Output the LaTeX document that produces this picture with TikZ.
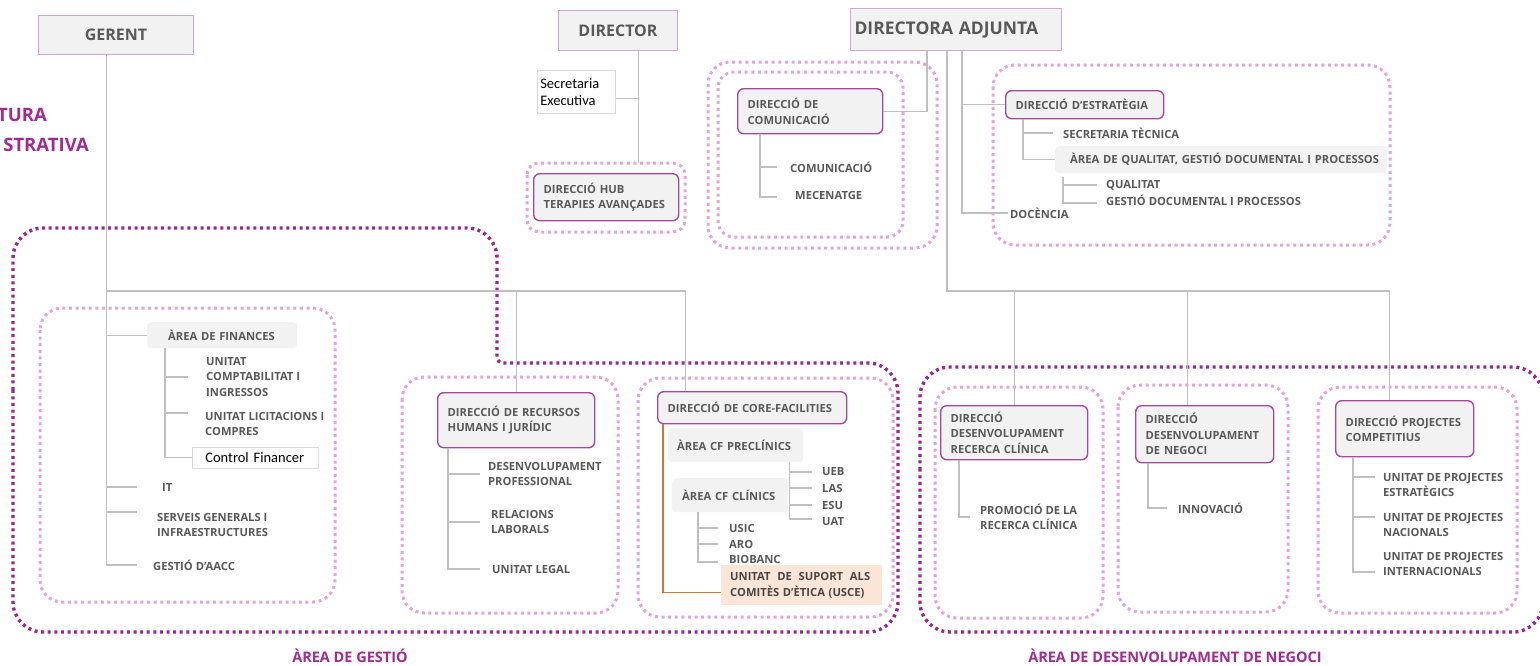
\documentclass[tikz,border=0pt]{standalone}
\usepackage{fontspec}
\setmainfont{Open Sans}
\newfontfamily\calibfont{Carlito}
\usepackage{tikz}
\usetikzlibrary{positioning}

\definecolor{lblgray}{HTML}{595959}
\definecolor{boxfill}{HTML}{F2F2F2}
\definecolor{dirline}{HTML}{A8489D}
\definecolor{areadot}{HTML}{9B2590}
\definecolor{subdot}{HTML}{E3A3DB}
\definecolor{connline}{HTML}{BFBFBF}
\definecolor{titlepurple}{HTML}{A02B93}
\definecolor{uscefill}{HTML}{FBE5D6}
\definecolor{orangeline}{HTML}{D0783C}
\definecolor{topline}{HTML}{D6A4CF}

\newcommand{\lblfont}{\fontsize{11.2}{15.5}\selectfont\bfseries}
\newcommand{\topfont}{\fontsize{16}{18}\selectfont\bfseries}
\newcommand{\areafont}{\fontsize{14.5}{17}\selectfont\bfseries}
\newcommand{\headfont}{\fontsize{18.5}{22}\selectfont\bfseries}

\tikzset{
  topbox/.style={draw=topline, line width=1pt, fill=boxfill, font=\topfont, text=lblgray, anchor=north west, inner sep=0pt},
  secbox/.style={draw=black!15, line width=0.6pt, fill=white, anchor=north west, align=left, inner xsep=3pt, font=\calibfont\fontsize{14.5}{17}\selectfont, text=black},
  ctrlbox/.style={draw=black!15, line width=0.6pt, fill=white, anchor=north west, align=left, inner xsep=13pt, inner ysep=0pt, font=\calibfont\fontsize{14.5}{16}\selectfont, text=black},
  dirbox/.style={draw=dirline, line width=1.4pt, rounded corners=6pt, fill=boxfill, anchor=north west, align=left, inner xsep=10pt, inner ysep=0pt, font=\lblfont, text=lblgray},
  areabox/.style={fill=boxfill, rounded corners=4pt, anchor=north west, align=left, inner ysep=0pt, font=\lblfont, text=lblgray},
  uscebox/.style={fill=uscefill, anchor=north west, align=left, inner xsep=9pt, inner ysep=0pt, font=\lblfont, text=lblgray!80!black},
  leaf/.style={anchor=west, align=left, inner sep=0pt, font=\lblfont, text=lblgray},
  areaname/.style={font=\areafont, text=titlepurple, inner sep=0pt},
  headname/.style={font=\headfont, text=titlepurple, inner sep=0pt, anchor=east},
  conn/.style={draw=connline, line width=1.2pt},
  orangeconn/.style={draw=orangeline, line width=1.2pt},
  bigarea/.style={draw=areadot, line width=3.4pt, dash pattern=on 3pt off 3.6pt, rounded corners=30pt},
  subarea/.style={draw=subdot, line width=3pt, dash pattern=on 3pt off 3.6pt, rounded corners=22pt}
}

\begin{document}
\begin{tikzpicture}[x=1pt,y=-1pt]
  \useasboundingbox (0,0) rectangle (1540,665);
  \clip (0,0) rectangle (1540,665);
  \fill[white] (0,0) rectangle (1540,665);

  \draw[bigarea] (13,420) -- (13,228) -- (497,228) [rounded corners=6pt] -- (497,363) [rounded corners=30pt] -- (898,363) -- (898,632) -- (13,632) -- cycle;
  \draw[bigarea] (920,500) -- (920,367) -- (1543,367) -- (1543,632) -- (920,632) -- cycle;

  \draw[subarea] (40,308)   rectangle (335,602);
  \draw[subarea] (402,377)  rectangle (618,613);
  \draw[subarea] (638,378)  rectangle (893,617);
  \draw[subarea] (935,387)  rectangle (1103,618);
  \draw[subarea] (1118,385) rectangle (1288,612);
  \draw[subarea] (1318,387) rectangle (1517,613);
  \draw[subarea] (993,65)   rectangle (1390,245);
  \draw[subarea] (708,62)   rectangle (937,248);
  \draw[subarea, rounded corners=16pt] (718,72) rectangle (903,237);
  \draw[subarea, rounded corners=12pt] (527,163) rectangle (685,232);

  \node[headname] (tura)     at (47,115) {TURA};
  \node[headname] (strativa) at (89,145) {STRATIVA};

  \node[topbox, minimum width=155pt, minimum height=39pt] (gerent)   at (38,15)  {GERENT};
  \node[topbox, minimum width=119pt, minimum height=40pt] (director) at (558,10) {DIRECTOR};
  \node[topbox, minimum height=42pt, text width=203pt, inner xsep=4pt, align=left, font=\fontsize{17.5}{20}\selectfont\bfseries] (diradj) at (850,8) {DIRECTORA ADJUNTA};
  \node[secbox, minimum height=43pt, text width=72pt] (secexec) at (537,70) {Secretaria\\Executiva};

  \node[dirbox, text width=125pt, minimum height=47pt] (hub)  at (533,173)  {DIRECCIÓ HUB\\TERAPIES AVANÇADES};
  \node[dirbox, text width=125pt, minimum height=45pt] (comm) at (737,88)   {DIRECCIÓ DE\\COMUNICACIÓ};
  \node[dirbox, text width=138pt, minimum height=28pt] (estr) at (1005,90)  {DIRECCIÓ D’ESTRATÈGIA};
  \node[dirbox, text width=137pt, minimum height=55pt] (rrhh) at (437,392)  {DIRECCIÓ DE RECURSOS\\HUMANS I JURÍDIC};
  \node[dirbox, text width=169pt, minimum height=32pt] (cf)   at (657,391)  {\mbox{DIRECCIÓ DE CORE-FACILITIES}};
  \node[dirbox, text width=127pt, minimum height=54pt] (ddrc) at (940,405)  {DIRECCIÓ\\DESENVOLUPAMENT\\RECERCA CLÍNICA};
  \node[dirbox, text width=118pt, minimum height=57pt] (ddn)  at (1135,405) {DIRECCIÓ\\DESENVOLUPAMENT\\DE NEGOCI};
  \node[dirbox, text width=118pt, minimum height=56pt] (dpc)  at (1335,400) {DIRECCIÓ PROJECTES\\COMPETITIUS};

  \node[areabox, inner xsep=21pt, text width=108pt, minimum height=26pt] (finarea) at (147,322)  {\mbox{ÀREA DE FINANCES}};
  \node[areabox, inner xsep=9pt,  text width=117pt, minimum height=34pt] (precl)   at (668,428)  {\mbox{ÀREA CF PRECLÍNICS}};
  \node[areabox, inner xsep=10pt, text width=96pt,  minimum height=34pt] (clin)    at (672,478)  {\mbox{ÀREA CF CLÍNICS}};
  \node[areabox, inner xsep=15pt, text width=302pt, minimum height=27pt] (qual)    at (1055,146) {\mbox{ÀREA DE QUALITAT, GESTIÓ DOCUMENTAL I PROCESSOS}};

  \node[leaf] (unicomp) at (206,377) {UNITAT\\COMPTABILITAT I\\INGRESSOS};
  \node[leaf] (unilic)  at (205,424) {UNITAT LICITACIONS I\\COMPRES};
  \node[ctrlbox, text width=100pt, minimum height=21pt] (ctrlfin) at (192,447) {Control Financer};
  \node[leaf] (it)      at (162,487) {IT};
  \node[leaf] (serveis) at (157,525) {SERVEIS GENERALS I\\INFRAESTRUCTURES};
  \node[leaf] (aacc)    at (153,565) {GESTIÓ D’AACC};

  \node[leaf] (desprof) at (488,474) {DESENVOLUPAMENT\\PROFESSIONAL};
  \node[leaf] (rellab)  at (491,522) {RELACIONS\\LABORALS};
  \node[leaf] (ulegal)  at (492,569) {UNITAT LEGAL};

  \node[leaf] (ueb)     at (822,472) {UEB};
  \node[leaf] (las)     at (822,488) {LAS};
  \node[leaf] (esu)     at (822,505) {ESU};
  \node[leaf] (uat)     at (822,522) {UAT};
  \node[leaf] (usic)    at (729,528) {USIC};
  \node[leaf] (aro)     at (729,544) {ARO};
  \node[leaf] (biobanc) at (729,559) {BIOBANC};
  \node[uscebox, text width=143pt, minimum height=40pt] (usce) at (721,565) {\hbox to 140pt{UNITAT\hfill DE\hfill SUPORT\hfill ALS}\\COMITÈS D’ÈTICA (USCE)};

  \node[leaf] (comun)   at (790,167) {COMUNICACIÓ};
  \node[leaf] (mecen)   at (795,195) {MECENATGE};

  \node[leaf] (sectec)   at (1063,133) {SECRETARIA TÈCNICA};
  \node[leaf] (qualitat) at (1106,185) {QUALITAT};
  \node[leaf] (gestdoc)  at (1106,200) {GESTIÓ DOCUMENTAL I PROCESSOS};
  \node[leaf] (docencia) at (1010,213) {DOCÈNCIA};

  \node[leaf] (promo)   at (980,517)  {PROMOCIÓ DE LA\\RECERCA CLÍNICA};
  \node[leaf] (innov)   at (1178,508) {INNOVACIÓ};
  \node[leaf] (upest)   at (1383,485) {UNITAT DE PROJECTES\\ESTRATÈGICS};
  \node[leaf] (upnac)   at (1383,525) {UNITAT DE PROJECTES\\NACIONALS};
  \node[leaf] (upint)   at (1383,564) {UNITAT DE PROJECTES\\INTERNACIONALS};

  \node[areaname] (agestio)   at (350,656)  {ÀREA DE GESTIÓ};
  \node[areaname] (adesnego)  at (1175,656) {ÀREA DE DESENVOLUPAMENT DE NEGOCI};

  \coordinate (gtrunk) at ([xshift=-9.5pt]gerent.south);
  \coordinate (gbar)   at ([yshift=-236pt]gtrunk);
  \draw[conn] (gtrunk) |- ([xshift=-16pt]aacc.west);
  \draw[conn] (gbar) -| ([xshift=-67pt]cf.north);
  \draw[conn] (gbar -| rrhh.north) -- (rrhh.north);
  \draw[conn] (gtrunk |- finarea.west) -- (finarea.west);
  \draw[conn] (gtrunk |- it.west) -- ([xshift=-25pt]it.west);
  \coordinate (servb) at ([xshift=-20pt,yshift=13pt]serveis.west);
  \draw[conn] (gtrunk |- servb) -- (servb);

  \coordinate (fintrunk) at ([xshift=18pt]finarea.south west);
  \draw[conn] (fintrunk) |- (ctrlfin.west);
  \draw[conn] (fintrunk |- unicomp.west) -- ([xshift=-18pt]unicomp.west);
  \coordinate (licb) at ([xshift=-17pt,yshift=11pt]unilic.west);
  \draw[conn] (fintrunk |- licb) -- (licb);

  \coordinate (rhtrunk) at ([xshift=11pt]rrhh.south west);
  \draw[conn] (rhtrunk) |- ([xshift=-12pt]ulegal.west);
  \draw[conn] (rhtrunk |- desprof.west) -- ([xshift=-8pt]desprof.west);
  \draw[conn] (rhtrunk |- rellab.west) -- ([xshift=-11pt]rellab.west);

  \draw[orangeconn] ([xshift=6pt]cf.south west) |- ([yshift=-7pt]usce.west);
  \coordinate (prtrunk) at ([xshift=-14pt]precl.south east);
  \draw[conn] (prtrunk) |- ([xshift=-10pt,yshift=3pt]uat.west);
  \foreach \n in {ueb,las,esu}
    \draw[conn] (prtrunk |- \n.west) -- ([xshift=-10pt]\n.west);
  \coordinate (cltrunk) at ([xshift=26pt]clin.south west);
  \draw[conn] (cltrunk) |- ([xshift=-11pt,yshift=-3pt]biobanc.west);
  \foreach \n in {usic,aro}
    \draw[conn] (cltrunk |- \n.west) -- ([xshift=-11pt]\n.west);

  \coordinate (dtrunk) at ([xshift=20.5pt]director.south);
  \path (dtrunk |- hub.north) coordinate (hubin);
  \draw[conn] (dtrunk) -- ([yshift=10pt]hubin);
  \coordinate (secb) at ([yshift=-6.5pt]secexec.east);
  \draw[conn] (secb) -- (secb -| dtrunk);

  \coordinate (da1) at ([xshift=77pt]diradj.south west);
  \coordinate (da2) at ([xshift=97pt]diradj.south west);
  \coordinate (da3) at ([xshift=112pt]diradj.south west);
  \coordinate (rbar) at ([yshift=-240pt]da2);
  \draw[conn] (da1) |- (comm.east);
  \draw[conn] (da2) -- (rbar) -| ([xshift=-15pt]dpc.north);
  \draw[conn] (rbar -| ddrc.north) -- (ddrc.north);
  \coordinate (ddnin) at ([xshift=-17pt]ddn.north);
  \draw[conn] (rbar -| ddnin) -- (ddnin);
  \draw[conn] (da3) |- ([xshift=-2pt]docencia.west);
  \draw[conn] (da3 |- estr.west) -- (estr.west);

  \coordinate (esttrunk) at ([xshift=18pt]estr.south west);
  \draw[conn] (esttrunk) |- (qual.west);
  \draw[conn] (esttrunk |- sectec.west) -- ([xshift=-10pt]sectec.west);
  \coordinate (qtrunk) at ([xshift=8pt,yshift=-4pt]qual.south west);
  \draw[conn] (qtrunk) |- ([xshift=-9pt,yshift=-3pt]gestdoc.west);
  \draw[conn] (qtrunk |- qualitat.west) -- ([xshift=-9pt]qualitat.west);

  \coordinate (cmtrunk) at ([xshift=23pt]comm.south west);
  \draw[conn] (cmtrunk) |- ([xshift=-18pt,yshift=-2pt]mecen.west);
  \draw[conn] (cmtrunk |- comun.west) -- ([xshift=-13pt]comun.west);

  \coordinate (rctrunk) at ([xshift=19pt]ddrc.south west);
  \draw[conn] (rctrunk) |- ([xshift=-10pt]promo.west);
  \coordinate (ntrunk) at ([xshift=13pt]ddn.south west);
  \draw[conn] (ntrunk) |- ([xshift=-11pt]innov.west);
  \coordinate (ptrunk) at ([xshift=18pt]dpc.south west);
  \draw[conn] (ptrunk) |- ([xshift=-8pt,yshift=-8pt]upint.west);
  \coordinate (upestb) at ([xshift=-8pt,yshift=8pt]upest.west);
  \draw[conn] (ptrunk |- upestb) -- (upestb);
  \coordinate (upnacb) at ([xshift=-8pt,yshift=8pt]upnac.west);
  \draw[conn] (ptrunk |- upnacb) -- (upnacb);
\end{tikzpicture}
\end{document}
